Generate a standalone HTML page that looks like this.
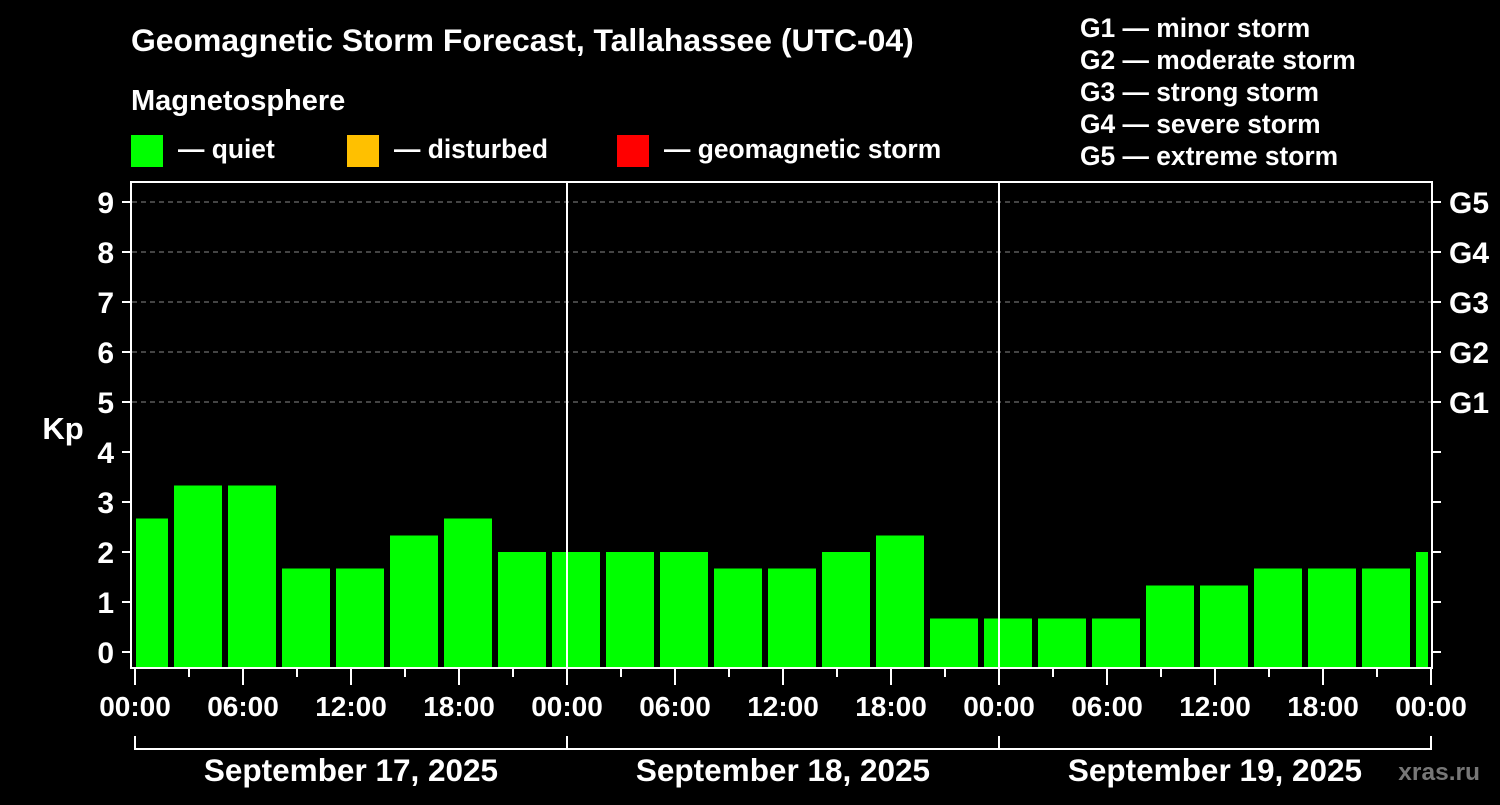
<!DOCTYPE html>
<html><head><meta charset="utf-8"><style>
body{margin:0;background:#000;width:1500px;height:800px;overflow:hidden}
svg text{font-family:"Liberation Sans",sans-serif;font-weight:bold;fill:#fff}
</style></head><body>
<svg width="1500" height="800" xmlns="http://www.w3.org/2000/svg">
<rect width="1500" height="800" fill="#000"/>
<text x="131" y="51" font-size="31.9">Geomagnetic Storm Forecast, Tallahassee (UTC-04)</text>
<text x="131" y="110" font-size="29">Magnetosphere</text>
<rect x="131" y="135" width="32" height="32" fill="#00ff00"/>
<text x="178" y="158" font-size="26.4">— quiet</text>
<rect x="347" y="135" width="32" height="32" fill="#ffc000"/>
<text x="394" y="158" font-size="26.4">— disturbed</text>
<rect x="617" y="135" width="32" height="32" fill="#ff0000"/>
<text x="664" y="158" font-size="26.4">— geomagnetic storm</text>
<g font-size="26.4">
<text x="1080" y="37">G1 — minor storm</text>
<text x="1080" y="69">G2 — moderate storm</text>
<text x="1080" y="101">G3 — strong storm</text>
<text x="1080" y="133">G4 — severe storm</text>
<text x="1080" y="165">G5 — extreme storm</text>
</g>
<g stroke="#888" stroke-width="1" stroke-dasharray="5,4">
<line x1="132" x2="1431" y1="202" y2="202"/><line x1="132" x2="1431" y1="252" y2="252"/>
<line x1="132" x2="1431" y1="302" y2="302"/><line x1="132" x2="1431" y1="352" y2="352"/>
<line x1="132" x2="1431" y1="402" y2="402"/>
</g>
<g fill="#00ff00" id="bars"></g>
<g stroke="#fff" stroke-width="2" fill="none">
<rect x="131" y="182" width="1301" height="486"/>
<line x1="567" x2="567" y1="182" y2="668"/><line x1="999" x2="999" y1="182" y2="668"/>
<polyline points="135,736 135,749 1431,749 1431,736"/>
<line x1="567" x2="567" y1="736" y2="749"/><line x1="999" x2="999" y1="736" y2="749"/>
</g>
<g id="ticks" stroke="#fff" stroke-width="2"></g>
<g font-size="30" text-anchor="end" id="yl"></g>
<g font-size="30" text-anchor="start">
<text x="1449" y="213">G5</text><text x="1449" y="263">G4</text><text x="1449" y="313">G3</text><text x="1449" y="363">G2</text><text x="1449" y="413">G1</text>
</g>
<text x="63" y="439" font-size="31" text-anchor="middle">Kp</text>
<g font-size="28" text-anchor="middle" id="xl"></g>
<g font-size="31.5" text-anchor="middle">
<text x="351" y="781">September 17, 2025</text>
<text x="783" y="781">September 18, 2025</text>
<text x="1215" y="781">September 19, 2025</text>
</g>
<text x="1480" y="780" font-size="24.5" text-anchor="end" style="fill:#777">xras.ru</text>
</svg>
<script>
var ns="http://www.w3.org/2000/svg";
function el(p,t,a,txt){var e=document.createElementNS(ns,t);for(var k in a)e.setAttribute(k,a[k]);if(txt)e.textContent=txt;document.getElementById(p).appendChild(e);}
var v=[2.67,3.33,3.33,1.67,1.67,2.33,2.67,2,2,2,2,1.67,1.67,2,2.33,0.67,0.67,0.67,0.67,1.33,1.33,1.67,1.67,1.67,2];
v.forEach(function(k,i){var c=144+54*i,x1=Math.max(136,c-24),x2=Math.min(1428,c+24),top=652-50*k;
el("bars","rect",{x:x1,y:top,width:x2-x1,height:668-top});});
for(var i=0;i<=9;i++){var y=652-50*i;el("ticks","line",{x1:122,x2:131,y1:y,y2:y});el("ticks","line",{x1:1432,x2:1441,y1:y,y2:y});
el("yl","text",{x:114,y:y+11},""+i);}
var lab=["00:00","06:00","12:00","18:00"];
for(var j=0;j<=24;j++){var x=135+54*j;el("ticks","line",{x1:x,x2:x,y1:669,y2:j%2?677:685});
if(j%2==0)el("xl","text",{x:x,y:716},lab[(j/2)%4]);}
</script>
</body></html>
